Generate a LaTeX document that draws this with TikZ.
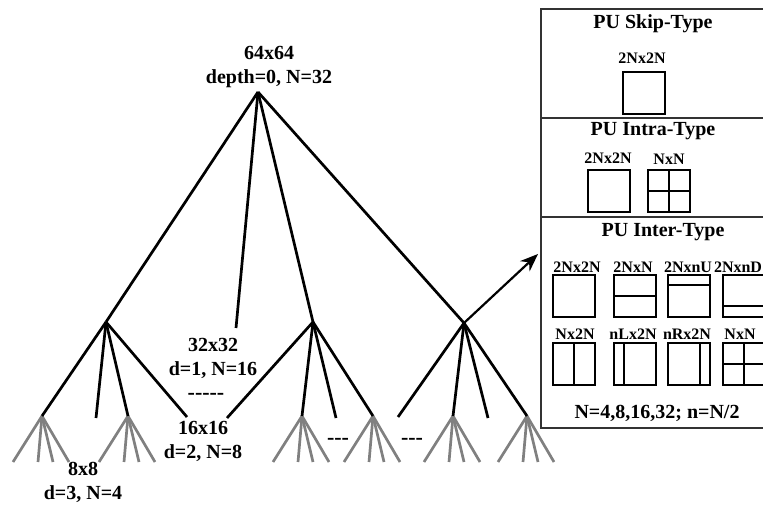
\documentclass[tikz,border=0pt]{standalone}
\usepackage{fontspec}
\setmainfont{Liberation Serif}
\usetikzlibrary{arrows.meta, calc}

\tikzset{
    % tree styles
    branch/.style={line width=1.35pt, draw=black},
    leaf/.style={line width=1.35pt, draw=black!50},
    lbl/.style={font=\fontsize{10}{12}\selectfont\bfseries, align=center, inner sep=0pt},
    gap/.style={font=\fontsize{11}{12}\selectfont\bfseries, inner sep=0pt},
    % panel styles
    panel/.style={rectangle, draw=black!80, line width=0.6pt, fill=white,
        anchor=north west, minimum width=130pt, inner sep=0pt, outer sep=0pt},
    ptitle/.style={font=\fontsize{10}{12}\selectfont\bfseries, inner sep=0pt},
    plbl/.style={font=\fontsize{8}{9}\selectfont\bfseries, inner sep=0pt},
    pu/.style={rectangle, draw, line width=1pt, minimum width=21pt,
        minimum height=21pt, inner sep=0pt, outer sep=0pt},
    split/.style={line width=1pt},
    arrow/.style={-{Stealth[length=9pt, width=7pt]}, line width=1.1pt}
}

\begin{document}
\begin{tikzpicture}[x=0.5pt, y=-0.5pt]
    \useasboundingbox (0,0) rectangle (763,506);
    \clip (0,0) rectangle (763,506);

    % tree points
    \coordinate (root) at (258,92);
    \coordinate (A) at (106,322);
    \coordinate (B) at (236,328);
    \coordinate (C) at (313,322);
    \coordinate (D) at (464,323);
    \coordinate (a1) at (42,416);
    \coordinate (a2) at (96,418);
    \coordinate (a3) at (128,416);
    \coordinate (a4) at (187,417);
    \coordinate (c1) at (227,418);
    \coordinate (c2) at (302,416);
    \coordinate (c3) at (336,418);
    \coordinate (c4) at (373,416);
    \coordinate (d1) at (398,417);
    \coordinate (d2) at (453,416);
    \coordinate (d3) at (488,418);
    \coordinate (d4) at (527,416);

    % depth 3 fans
    \foreach \f in {a1,a3,c2,c4,d2,d4}
        \foreach \dx [count=\i] in {-29,-4,11,27} {
            \path (\f) ++(\dx,46) coordinate (\f-\i);
            \draw[leaf] (\f) -- (\f-\i);
        }

    \foreach \n in {A,B,C,D}
        \draw[branch] (root) -- (\n);
    \foreach \n in {a1,a2,a3,a4}
        \draw[branch] (A) -- (\n);
    \foreach \n in {c1,c2,c3,c4}
        \draw[branch] (C) -- (\n);
    \foreach \n in {d1,d2,d3,d4}
        \draw[branch] (D) -- (\n);

    % tree labels
    \node[lbl] (l0) at (269,67) {64x64\\depth=0, N=32};
    \node[lbl] (l1) at (213,358) {32x32\\d=1, N=16};
    \node[gap] (g1) at (206,396) {-{}-{}-{}-{}-};
    \node[lbl] (l2) at (203,441) {16x16\\d=2, N=8};
    \node[lbl] (l3) at (83,482) {8x8\\d=3, N=4};
    \node[gap] (g2) at (338,441) {-{}-{}-};
    \node[gap] (g3) at (412,441) {-{}-{}-};

    % PU panel
    \node[panel, minimum height=54.5pt] (skip) at (541,9) {};
    \node[panel, minimum height=49.5pt] (intra) at (541,118) {};
    \node[panel, minimum height=105.5pt] (inter) at (541,217) {};

    \coordinate (tip) at (538,254);
    \draw[arrow] (D) -- (tip);

    \node[ptitle] (tskip) at (653,24) {PU Skip-Type};
    \node[plbl] (s1l) at (642,58) {2Nx2N};
    \node[pu] (s1) at (644,93) {};

    \node[ptitle] (tintra) at (653,131) {PU Intra-Type};
    \node[plbl] (i1l) at (608,158) {2Nx2N};
    \node[plbl] (i2l) at (669,159) {NxN};
    \node[pu] (i1) at (608.5,191.5) {};
    \node[pu] (i2) at (669,191.5) {};
    \draw[split] (i2.north) -- (i2.south);
    \draw[split] (i2.west) -- (i2.east);

    \node[ptitle] (tinter) at (663,232) {PU Inter-Type};
    \node[plbl] (r1l) at (577,267) {2Nx2N};
    \node[plbl] (r2l) at (633,267) {2NxN};
    \node[plbl] (r3l) at (688,267) {2NxnU};
    \node[plbl] (r4l) at (738,267) {2NxnD};
    \node[pu] (r1) at (574,296) {};
    \node[pu] (r2) at (634.5,296) {};
    \node[pu] (r3) at (689,296) {};
    \node[pu] (r4) at (744,296) {};
    \draw[split] (r2.west) -- (r2.east);
    \draw[split] ($(r3.north west)!0.25!(r3.south west)$) -- ($(r3.north east)!0.25!(r3.south east)$);
    \draw[split] ($(r4.north west)!0.75!(r4.south west)$) -- ($(r4.north east)!0.75!(r4.south east)$);

    \node[plbl] (q1l) at (575,334) {Nx2N};
    \node[plbl] (q2l) at (633,334) {nLx2N};
    \node[plbl] (q3l) at (687,334) {nRx2N};
    \node[plbl] (q4l) at (740,334) {NxN};
    \node[pu] (q1) at (574,364) {};
    \node[pu] (q2) at (634.5,364) {};
    \node[pu] (q3) at (689,364) {};
    \node[pu] (q4) at (744,364) {};
    \draw[split] (q1.north) -- (q1.south);
    \draw[split] ($(q2.north west)!0.25!(q2.north east)$) -- ($(q2.south west)!0.25!(q2.south east)$);
    \draw[split] ($(q3.north west)!0.75!(q3.north east)$) -- ($(q3.south west)!0.75!(q3.south east)$);
    \draw[split] (q4.north) -- (q4.south);
    \draw[split] (q4.west) -- (q4.east);

    \node[ptitle] (note) at (657,413) {N=4,8,16,32; n=N/2};
\end{tikzpicture}
\end{document}
